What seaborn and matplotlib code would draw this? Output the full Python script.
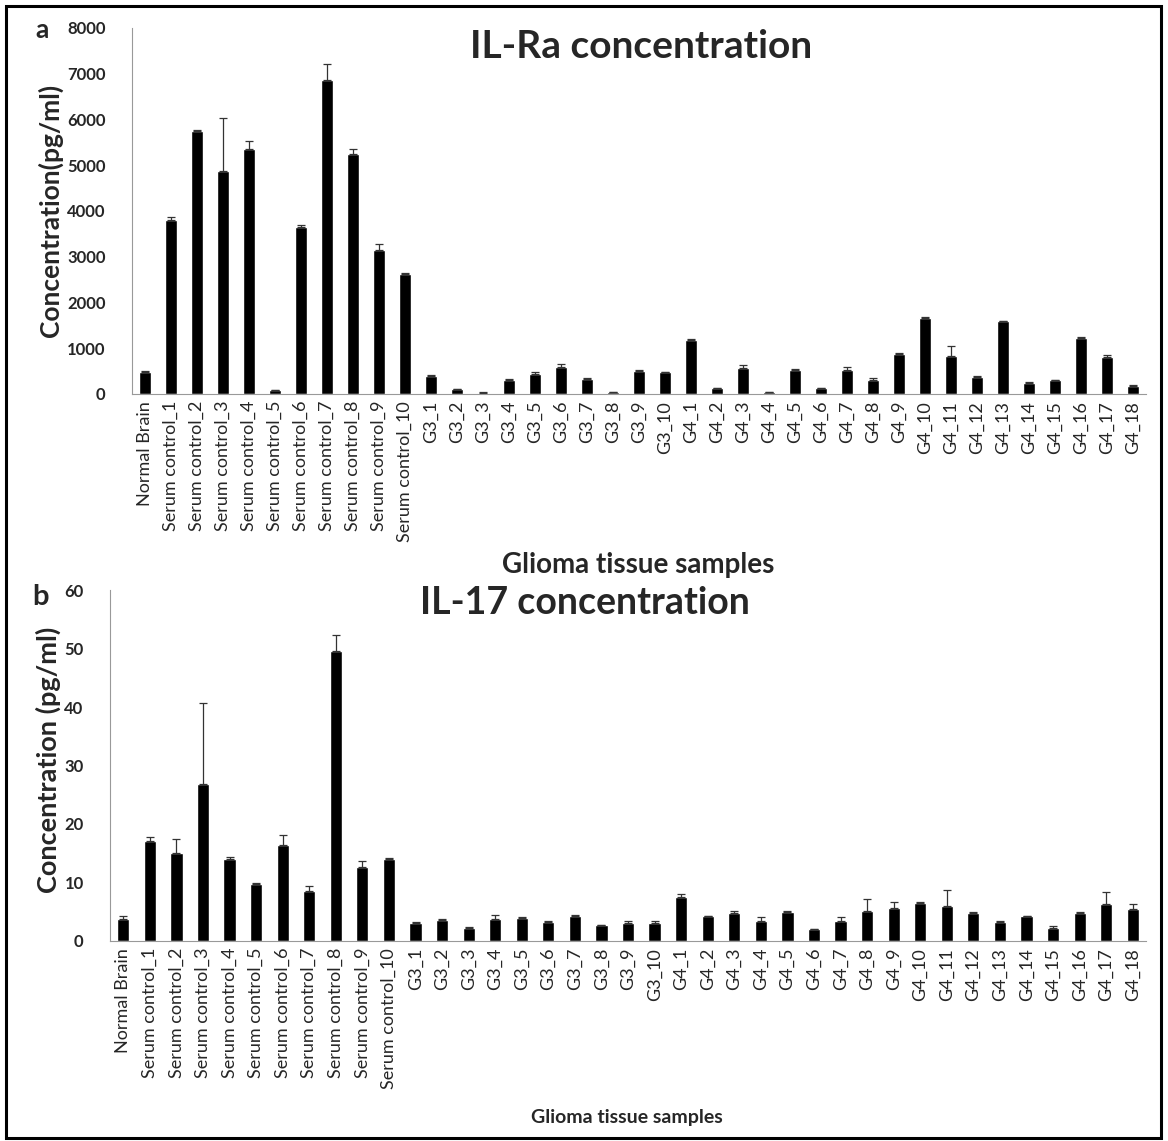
import numpy as np
import pandas as pd
import matplotlib
matplotlib.use("Agg")
import matplotlib.pyplot as plt
import seaborn as sns
from matplotlib.patches import Rectangle

## Data
samples = ["Normal Brain",
           "Serum control_1", "Serum control_2", "Serum control_3", "Serum control_4",
           "Serum control_5", "Serum control_6", "Serum control_7", "Serum control_8",
           "Serum control_9", "Serum control_10",
           "G3_1", "G3_2", "G3_3", "G3_4", "G3_5", "G3_6", "G3_7", "G3_8", "G3_9", "G3_10",
           "G4_1", "G4_2", "G4_3", "G4_4", "G4_5", "G4_6", "G4_7", "G4_8", "G4_9",
           "G4_10", "G4_11", "G4_12", "G4_13", "G4_14", "G4_15", "G4_16", "G4_17", "G4_18"]

# IL-Ra concentration (pg/ml) and upper error
ilra = [490, 3800, 5750, 4870, 5360, 80, 3640, 6870, 5250, 3150, 2630,
        400, 100, 30, 310, 440, 600, 330, 40, 500, 470,
        1180, 120, 570, 40, 530, 120, 530, 300, 865, 1670, 820, 370, 1585, 245, 305, 1225, 810, 180]
ilra_err = [20, 60, 30, 1170, 160, 0, 60, 350, 110, 130, 10,
            10, 5, 5, 10, 40, 55, 10, 5, 15, 15,
            20, 10, 70, 5, 15, 10, 60, 60, 20, 20, 225, 20, 10, 10, 10, 10, 45, 10]

# IL-17 concentration (pg/ml) and upper error
il17 = [3.7, 17.1, 15.0, 26.8, 14.0, 9.8, 16.4, 8.5, 49.5, 12.7, 14.1,
        3.0, 3.6, 2.3, 3.7, 4.0, 3.2, 4.2, 2.7, 3.1, 3.0,
        7.5, 4.2, 4.8, 3.5, 5.0, 2.0, 3.5, 5.1, 5.6, 6.5, 6.0, 4.8, 3.3, 4.2, 2.3, 4.8, 6.3, 5.4]
il17_err = [0.6, 0.6, 2.4, 13.9, 0.3, 0.1, 1.7, 0.9, 2.8, 0.9, 0.1,
            0.2, 0.1, 0.1, 0.7, 0.1, 0.2, 0.2, 0.1, 0.3, 0.4,
            0.5, 0.1, 0.3, 0.6, 0.1, 0.1, 0.6, 2.0, 1.1, 0.1, 2.7, 0.1, 0.1, 0.1, 0.2, 0.1, 2.0, 1.0]

df_a = pd.DataFrame({"sample": samples, "conc": ilra, "err": ilra_err})
df_b = pd.DataFrame({"sample": samples, "conc": il17, "err": il17_err})

sns.set_style("white")
plt.rcParams["font.family"] = ["Lato", "DejaVu Sans"]

fig = plt.figure(figsize=(11.68, 11.41), dpi=100)
ax_a = fig.add_axes([0.113, 0.6547, 0.868, 0.3208])
ax_b = fig.add_axes([0.0942, 0.1753, 0.887, 0.3076])


def draw_panel(ax, df, ymax, ystep):
    sns.barplot(data=df, x="sample", y="conc", color="black", width=0.46,
                saturation=1, errorbar=None, ax=ax)
    xs = [p.get_x() + p.get_width() / 2 for p in ax.patches]
    ax.errorbar(xs, df["conc"], yerr=[np.zeros(len(df)), df["err"]], fmt="none",
                ecolor="#333333", elinewidth=0.9, capsize=3, capthick=0.9)
    ax.set_ylim(0, ymax)
    ax.set_xlim(-0.5, len(df) - 0.5)
    ax.set_yticks(np.arange(0, ymax + 1, ystep))
    for t in ax.get_yticklabels():
        t.set_fontweight("bold")
    ax.tick_params(axis="y", length=5, width=0.8, color="#999999", pad=14, labelsize=12)
    # Excel-style ticks between categories
    ax.set_xticks(np.arange(len(df)))
    ax.set_xticks(np.arange(-0.5, len(df), 1), minor=True)
    ax.tick_params(axis="x", which="major", length=0, pad=5, labelsize=13, rotation=90)
    ax.tick_params(axis="x", which="minor", length=5, width=0.8, color="#999999")
    sns.despine(ax=ax)
    for s in ["left", "bottom"]:
        ax.spines[s].set_color("#999999")
        ax.spines[s].set_linewidth(0.8)
    ax.set_xlabel("")
    ax.set_ylabel("")


draw_panel(ax_a, df_a, 8000, 1000)
draw_panel(ax_b, df_b, 60, 10)

## Text
fig.text(641 / 1168, 1 - 47 / 1141, "IL-Ra concentration", ha="center", va="center",
         fontsize=28, fontweight="bold")
fig.text(585 / 1168, 1 - 603 / 1141, "IL-17 concentration", ha="center", va="center",
         fontsize=27, fontweight="bold")
fig.text(42 / 1168, 1 - 30 / 1141, "a", ha="center", va="center", fontsize=19, fontweight="bold")
fig.text(40 / 1168, 1 - 597 / 1141, "b", ha="center", va="center", fontsize=21, fontweight="bold")
fig.text(50 / 1168, 1 - 210 / 1141, "Concentration(pg/ml)", rotation=90, ha="center",
         va="center", fontsize=19, fontweight="bold")
fig.text(48 / 1168, 1 - 760 / 1141, "Concentration (pg/ml)", rotation=90, ha="center",
         va="center", fontsize=19.5, fontweight="bold")
fig.text(638 / 1168, 1 - 565 / 1141, "Glioma tissue samples", ha="center", va="center",
         fontsize=20, fontweight="bold")
fig.text(627 / 1168, 1 - 1117 / 1141, "Glioma tissue samples", ha="center", va="center",
         fontsize=14, fontweight="bold")

# outer frame
fig.patches.append(Rectangle((6 / 1168, 3 / 1141), 1155 / 1168, 1132 / 1141,
                             transform=fig.transFigure, fill=False,
                             edgecolor="black", linewidth=2.2))

fig.savefig("out.png", dpi=100)
